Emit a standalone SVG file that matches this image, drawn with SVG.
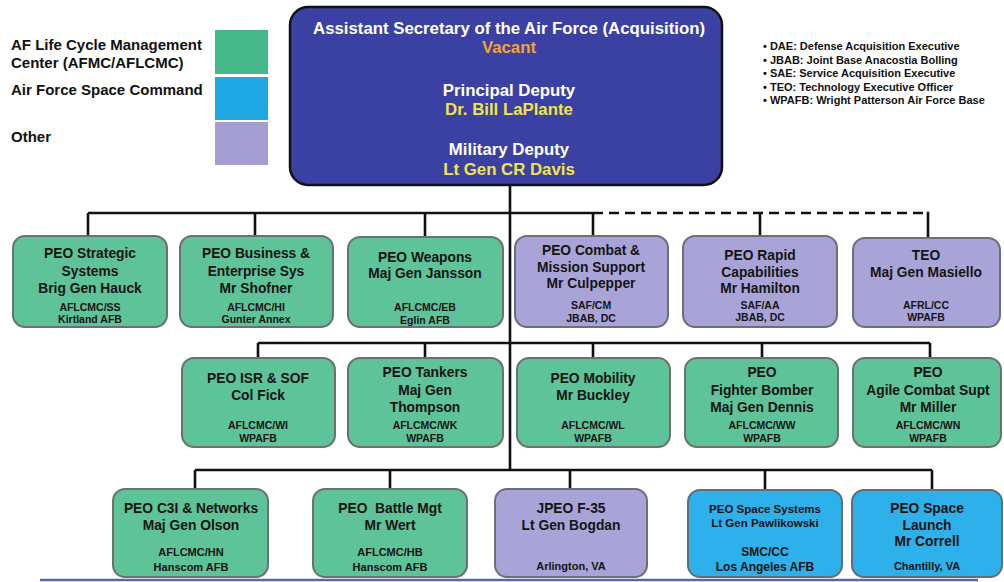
<svg xmlns="http://www.w3.org/2000/svg" width="1004" height="582" viewBox="0 0 1004 582">
<style>
text{font-family:"Liberation Sans",Arial,sans-serif;font-weight:bold;text-anchor:middle}
.lg{font-size:15px;fill:#111;text-anchor:start}
.nt{font-size:11px;fill:#111;text-anchor:start}
.top{font-size:16.8px;fill:#fff}
.or{font-size:16.8px;fill:#f2a33c}
.ye{font-size:16.8px;fill:#f3e449}
.m{font-size:13.8px;fill:#141414}
.s{font-size:10.5px;fill:#141414}
.s3{font-size:11px;fill:#141414}
.g{fill:#5ec398;stroke:#6c716f;stroke-width:2}
.p{fill:#a9a4d8;stroke:#6c6f78;stroke-width:2}
.b{fill:#2eb0ea;stroke:#5f6f78;stroke-width:2}
.ln{stroke:#111;stroke-width:2.6;fill:none}
.dash{stroke:#111;stroke-width:2.6;fill:none;stroke-dasharray:10 6}
</style>
<rect width="1004" height="582" fill="#fff"/>

<g id="legend">
<text class="lg" x="11" y="50">AF Life Cycle Management</text>
<text class="lg" x="11" y="68">Center (AFMC/AFLCMC)</text>
<text class="lg" x="11" y="95">Air Force Space Command</text>
<text class="lg" x="11" y="142">Other</text>
<rect x="215" y="30" width="53" height="44" fill="#46b98c"/>
<rect x="215" y="77" width="53" height="43" fill="#1fa8e4"/>
<rect x="215" y="122" width="53" height="43" fill="#a39dd2"/>
</g>

<g id="notes">
<text class="nt" x="763" y="50">• DAE:  Defense Acquisition Executive</text>
<text class="nt" x="763" y="63.5">• JBAB: Joint Base Anacostia Bolling</text>
<text class="nt" x="763" y="77">• SAE: Service Acquisition Executive</text>
<text class="nt" x="763" y="90.5">• TEO:  Technology Executive Officer</text>
<text class="nt" x="763" y="104">• WPAFB: Wright Patterson Air Force Base</text>
</g>

<g id="connectors">
<path class="ln" d="M510 185 V470"/>
<path class="ln" d="M88 213 H593 M88 213 V236 M255 213 V236 M425 213 V236 M593 213 V236"/>
<path class="dash" d="M593 213 H928"/>
<path class="ln" d="M760 213 V236 M928 211.7 V238"/>
<path class="ln" d="M258 343 H930 M258 343 V358 M425 343 V358 M593 343 V358 M762 343 V358 M930 343 V358"/>
<path class="ln" d="M195 470 H932 M195 470 V489 M390 470 V489 M570 470 V489 M765 470 V489 M932 470 V489"/>
</g>

<g id="asaf">
<rect x="290" y="7" width="432" height="178" rx="18" fill="#3b41a2" stroke="#111" stroke-width="2.5"/>
<text class="top" x="509" y="34">Assistant Secretary of the Air Force (Acquisition)</text>
<text class="or" x="509" y="53">Vacant</text>
<text class="top" x="509" y="96">Principal Deputy</text>
<text class="ye" x="509" y="115">Dr. Bill LaPlante</text>
<text class="top" x="509" y="155">Military Deputy</text>
<text class="ye" x="509" y="175">Lt Gen CR Davis</text>
</g>

<g id="peo-strategic">
<rect class="g" x="13" y="236" width="154" height="91" rx="12"/>
<text class="m" x="90" y="258">PEO Strategic</text>
<text class="m" x="90" y="276">Systems</text>
<text class="m" x="90" y="293">Brig Gen Hauck</text>
<text class="s" x="90" y="311">AFLCMC/SS</text>
<text class="s" x="90" y="323">Kirtland AFB</text>
</g>
<g id="peo-business">
<rect class="g" x="180" y="236" width="153" height="91" rx="12"/>
<text class="m" x="256" y="258">PEO Business &amp;</text>
<text class="m" x="256" y="276">Enterprise Sys</text>
<text class="m" x="256" y="293">Mr Shofner</text>
<text class="s" x="256" y="311">AFLCMC/HI</text>
<text class="s" x="256" y="323">Gunter Annex</text>
</g>
<g id="peo-weapons">
<rect class="g" x="348" y="237" width="155" height="90" rx="12"/>
<text class="m" x="425" y="262">PEO Weapons</text>
<text class="m" x="425" y="278">Maj Gen Jansson</text>
<text class="s" x="425" y="311">AFLCMC/EB</text>
<text class="s" x="425" y="324">Eglin AFB</text>
</g>
<g id="peo-combat">
<rect class="p" x="515" y="236" width="153" height="91" rx="12"/>
<text class="m" x="591" y="255">PEO Combat &amp;</text>
<text class="m" x="591" y="272">Mission Support</text>
<text class="m" x="591" y="288">Mr Culpepper</text>
<text class="s" x="591" y="309">SAF/CM</text>
<text class="s" x="591" y="322">JBAB, DC</text>
</g>
<g id="peo-rapid">
<rect class="p" x="683" y="236" width="154" height="91" rx="12"/>
<text class="m" x="760" y="260">PEO Rapid</text>
<text class="m" x="760" y="277">Capabilities</text>
<text class="m" x="760" y="293">Mr Hamilton</text>
<text class="s" x="760" y="309">SAF/AA</text>
<text class="s" x="760" y="321">JBAB, DC</text>
</g>
<g id="teo">
<rect class="p" x="853" y="238" width="147" height="89" rx="12"/>
<text class="m" x="926" y="260">TEO</text>
<text class="m" x="926" y="277">Maj Gen Masiello</text>
<text class="s" x="926" y="309">AFRL/CC</text>
<text class="s" x="926" y="321">WPAFB</text>
</g>

<g id="peo-isr">
<rect class="g" x="182" y="358" width="153" height="89" rx="12"/>
<text class="m" x="258" y="383">PEO ISR &amp; SOF</text>
<text class="m" x="258" y="400">Col Fick</text>
<text class="s" x="258" y="429">AFLCMC/WI</text>
<text class="s" x="258" y="442">WPAFB</text>
</g>
<g id="peo-tankers">
<rect class="g" x="348" y="358" width="155" height="89" rx="12"/>
<text class="m" x="425" y="377">PEO Tankers</text>
<text class="m" x="425" y="395">Maj Gen</text>
<text class="m" x="425" y="412">Thompson</text>
<text class="s" x="425" y="429">AFLCMC/WK</text>
<text class="s" x="425" y="442">WPAFB</text>
</g>
<g id="peo-mobility">
<rect class="g" x="517" y="358" width="153" height="89" rx="12"/>
<text class="m" x="593" y="383">PEO Mobility</text>
<text class="m" x="593" y="400">Mr Buckley</text>
<text class="s" x="593" y="429">AFLCMC/WL</text>
<text class="s" x="593" y="442">WPAFB</text>
</g>
<g id="peo-fighter">
<rect class="g" x="685" y="358" width="153" height="89" rx="12"/>
<text class="m" x="762" y="377">PEO</text>
<text class="m" x="762" y="395">Fighter Bomber</text>
<text class="m" x="762" y="412">Maj Gen Dennis</text>
<text class="s" x="762" y="429">AFLCMC/WW</text>
<text class="s" x="762" y="442">WPAFB</text>
</g>
<g id="peo-agile">
<rect class="g" x="853" y="358" width="148" height="89" rx="12"/>
<text class="m" x="928" y="377">PEO</text>
<text class="m" x="928" y="395">Agile Combat Supt</text>
<text class="m" x="928" y="412">Mr Miller</text>
<text class="s" x="928" y="429">AFLCMC/WN</text>
<text class="s" x="928" y="442">WPAFB</text>
</g>

<g id="peo-c3i">
<rect class="g" x="113" y="489" width="155" height="88" rx="12"/>
<text class="m" x="191" y="513">PEO C3I &amp; Networks</text>
<text class="m" x="191" y="530">Maj Gen Olson</text>
<text class="s3" x="191" y="556">AFLCMC/HN</text>
<text class="s3" x="191" y="571">Hanscom AFB</text>
</g>
<g id="peo-battle">
<rect class="g" x="313" y="489" width="154" height="88" rx="12"/>
<text class="m" x="390" y="513" xml:space="preserve">PEO  Battle Mgt</text>
<text class="m" x="390" y="530">Mr Wert</text>
<text class="s3" x="390" y="556">AFLCMC/HB</text>
<text class="s3" x="390" y="571">Hanscom AFB</text>
</g>
<g id="jpeo-f35">
<rect class="p" x="495" y="489" width="152" height="88" rx="12"/>
<text class="m" x="571" y="513">JPEO F-35</text>
<text class="m" x="571" y="530">Lt Gen Bogdan</text>
<text class="s3" x="571" y="570">Arlington, VA</text>
</g>
<g id="peo-space-systems">
<rect class="b" x="688" y="490" width="154" height="87" rx="12"/>
<text class="m" x="765" y="513" style="font-size:11.5px">PEO Space Systems</text>
<text class="m" x="765" y="527" style="font-size:11.5px">Lt Gen Pawlikowski</text>
<text class="s3" x="765" y="556" style="font-size:12px">SMC/CC</text>
<text class="s3" x="765" y="571" style="font-size:12px">Los Angeles AFB</text>
</g>
<g id="peo-space-launch">
<rect class="b" x="852" y="490" width="150" height="87" rx="12"/>
<text class="m" x="927" y="513">PEO Space</text>
<text class="m" x="927" y="530">Launch</text>
<text class="m" x="927" y="546">Mr Correll</text>
<text class="s3" x="927" y="570">Chantilly, VA</text>
</g>

<path d="M40 580 H978" stroke="#5a68a8" stroke-width="2.5"/>
</svg>
